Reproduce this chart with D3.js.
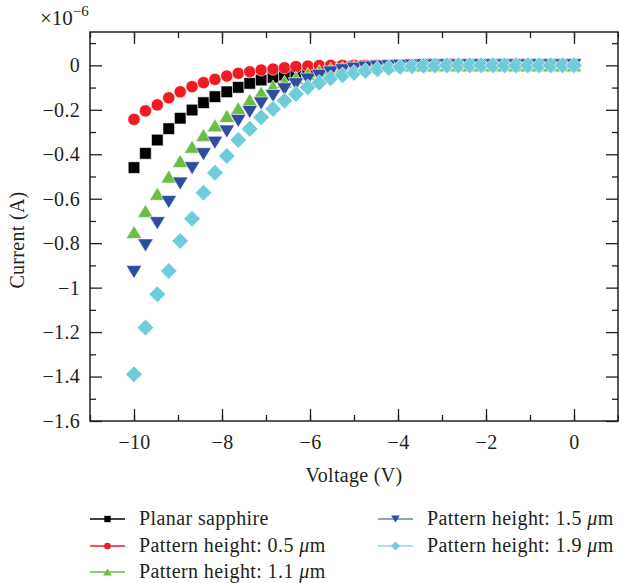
<!DOCTYPE html>
<html>
<head>
<meta charset="utf-8">
<script src="https://cdn.jsdelivr.net/npm/d3@7"></script>
<style>
  body { margin: 0; background: #fff; }
  text { font-family: "Liberation Serif", "DejaVu Serif", serif; fill: #231f20; }
</style>
</head>
<body>
<svg id="chart" width="619" height="583"></svg>
<script>
//////////////////////////////////////////
// Données (x 1e-6 A) //
//////////////////////////////////////////
const voltage = [-10, -9.74, -9.47, -9.21, -8.95, -8.68, -8.42, -8.16, -7.89, -7.63,
  -7.37, -7.11, -6.84, -6.58, -6.32, -6.05, -5.79, -5.53, -5.26, -5.00,
  -4.74, -4.47, -4.21, -3.95, -3.68, -3.42, -3.16, -2.89, -2.63, -2.37,
  -2.11, -1.84, -1.58, -1.32, -1.05, -0.79, -0.53, -0.26, 0];

const planar = [-0.46, -0.396, -0.336, -0.285, -0.238, -0.201, -0.168, -0.141, -0.119, -0.099,
  -0.081, -0.066, -0.054, -0.044, -0.033, -0.024, -0.017, -0.011, -0.007, -0.004,
  -0.002, -0.001, 0, 0, 0, 0, 0, 0, 0, 0,
  0, 0, 0, 0, 0, 0, 0, 0, 0];

const h05 = [-0.243, -0.205, -0.178, -0.146, -0.119, -0.096, -0.078, -0.063, -0.048, -0.036,
  -0.029, -0.021, -0.017, -0.011, -0.006, -0.003, -0.001, 0, 0, 0,
  0, 0, 0, 0, 0, 0, 0, 0, 0, 0,
  0, 0, 0, 0, 0, 0, 0, 0, 0];

const h11 = [-0.75, -0.655, -0.578, -0.50, -0.43, -0.366, -0.313, -0.27, -0.228, -0.193,
  -0.156, -0.123, -0.095, -0.074, -0.056, -0.038, -0.026, -0.015, -0.009, -0.005,
  -0.003, -0.001, 0, 0, 0, 0, 0, 0, 0, 0,
  0, 0, 0, 0, 0, 0, 0, 0, 0];

const h15 = [-0.93, -0.81, -0.71, -0.615, -0.532, -0.463, -0.40, -0.348, -0.298, -0.25,
  -0.21, -0.172, -0.138, -0.108, -0.085, -0.064, -0.047, -0.032, -0.022, -0.015,
  -0.010, -0.006, -0.004, -0.002, -0.001, 0, 0, 0, 0, 0,
  0, 0, 0, 0, 0, 0, 0, 0, 0];

const h19 = [-1.39, -1.18, -1.03, -0.925, -0.79, -0.69, -0.573, -0.483, -0.408, -0.336,
  -0.286, -0.234, -0.196, -0.159, -0.129, -0.099, -0.078, -0.058, -0.045, -0.034,
  -0.025, -0.018, -0.012, -0.007, -0.004, -0.002, -0.001, 0, 0, 0,
  0, 0, 0, 0, 0, 0, 0, 0, 0];

const seriesNames = ["Planar sapphire", "Pattern height: 0.5 ", "Pattern height: 1.1 ",
  "Pattern height: 1.5 ", "Pattern height: 1.9 "];
const seriesValues = [planar, h05, h11, h15, h19];

const xTicks = [-10, -8, -6, -4, -2, 0];
const yTicks = [0, -0.2, -0.4, -0.6, -0.8, -1, -1.2, -1.4, -1.6];

// couleurs et marqueurs, un par série
const colors = ["#000000", "#ed1c24", "#6abd45", "#2e4da0", "#6ecdd8"];
const lineColors = ["#000000", "#ed1c24", "#6abd45", "#6a7fc0", "#8fd8e2"];
const shapes = ["square", "circle", "up", "down", "diamond"];

//////////////////////////////
// Chemin SVG d'un marqueur //
//////////////////////////////
function markerPath(shape, k) {
    if (shape === "square") { let h = 5.8 * k; return `M${-h},${-h}h${2*h}v${2*h}h${-2*h}Z`; }
    if (shape === "circle") { return d3.symbol(d3.symbolCircle, 118 * k * k)(); }
    if (shape === "up") { let w = 7.8 * k, t = 6.5 * k; return `M0,${-t}L${w},${t}L${-w},${t}Z`; }
    if (shape === "down") { let w = 7.8 * k, t = 6.5 * k; return `M0,${t}L${w},${-t}L${-w},${-t}Z`; }
    let r = 8.3 * k; return `M0,${-r}L${r},0L0,${r}L${-r},0Z`;
}

const svg = d3.select("#chart");
const x = d3.scaleLinear().domain([-11, 1]).range([90, 618]);
const y = d3.scaleLinear().domain([-1.6, 0.15]).range([421, 32]);
const fmt = d => d === 0 ? "0" : d3.format("")(d).replace("-", "\u2212");

// axes avec graduations vers l'intérieur
const xMinor = d3.range(-11, 1.01, 1);
const yMinor = d3.range(-1.5, 0.15, 0.2).map(v => +v.toFixed(1));

function drawAxis(axis, tx, ty) {
    let g = svg.append("g").attr("transform", `translate(${tx},${ty})`).call(axis);
    g.select(".domain").remove();
    g.selectAll("line").attr("stroke", "#231f20").attr("stroke-width", 1.3);
    return g;
}

let gx = drawAxis(d3.axisBottom(x).tickValues(xTicks).tickSize(-12).tickPadding(14).tickFormat(fmt), 0, 421);
gx.selectAll("text").attr("font-size", 20).attr("font-family", "Liberation Serif").attr("letter-spacing", 0.3);
drawAxis(d3.axisBottom(x).tickValues(xMinor).tickSize(-6).tickFormat(""), 0, 421);
drawAxis(d3.axisTop(x).tickValues(xTicks).tickSize(-12).tickFormat(""), 0, 32);
drawAxis(d3.axisTop(x).tickValues(xMinor).tickSize(-6).tickFormat(""), 0, 32);

let gy = drawAxis(d3.axisLeft(y).tickValues(yTicks).tickSize(-12).tickPadding(10).tickFormat(fmt), 90, 0);
gy.selectAll("text").attr("font-size", 20).attr("font-family", "Liberation Serif").attr("letter-spacing", 0.3);
drawAxis(d3.axisLeft(y).tickValues(yMinor).tickSize(-6).tickFormat(""), 90, 0);
drawAxis(d3.axisRight(y).tickValues(yTicks).tickSize(-12).tickFormat(""), 618, 0);
drawAxis(d3.axisRight(y).tickValues(yMinor).tickSize(-6).tickFormat(""), 618, 0);

// cadre
svg.append("rect").attr("x", 90).attr("y", 32).attr("width", 528).attr("height", 389)
    .attr("fill", "none").attr("stroke", "#231f20").attr("stroke-width", 1.5);

// multiplicateur ×10^-6
let mult = svg.append("text").attr("x", 40).attr("y", 25).attr("font-size", 21);
mult.append("tspan").text("\u00d710");
mult.append("tspan").attr("dy", -9).attr("font-size", 15).text("\u22126");

// titres des axes
svg.append("text").attr("x", 354).attr("y", 482).attr("text-anchor", "middle")
    .attr("font-size", 20).attr("letter-spacing", 0.3).text("Voltage (V)");
svg.append("text").attr("transform", "translate(24,240) rotate(-90)").attr("text-anchor", "middle")
    .attr("font-size", 20).attr("letter-spacing", 0.3).text("Current (A)");

////////////////////////
// Points des séries  //
////////////////////////
seriesValues.forEach((vals, s) => {
    svg.append("g").selectAll("path").data(vals).join("path")
        .attr("d", markerPath(shapes[s], 1))
        .attr("transform", (v, i) => `translate(${x(voltage[i])},${y(v)})`)
        .attr("fill", colors[s])
        .attr("stroke", "#fff").attr("stroke-width", 0.6);
});

/////////////
// Légende //
/////////////
const legendPos = [[90, 519], [90, 546], [90, 572], [378, 519], [378, 546]];
seriesNames.forEach((name, s) => {
    let [lx, ly] = legendPos[s];
    let g = svg.append("g").attr("transform", `translate(${lx},${ly})`);
    g.append("line").attr("x1", 0).attr("x2", 35).attr("y1", 0).attr("y2", 0)
        .attr("stroke", lineColors[s]).attr("stroke-width", 1.5);
    g.append("path").attr("d", markerPath(shapes[s], 0.55))
        .attr("transform", "translate(17.5,0)").attr("fill", colors[s]);
    let t = g.append("text").attr("x", 49).attr("y", 6).attr("font-size", 20)
        .attr("letter-spacing", 0.4).text(name);
    if (s > 0) {
        t.append("tspan").attr("font-style", "italic").text("\u03bc");
        t.append("tspan").text("m");
    }
});
</script>
</body>
</html>
